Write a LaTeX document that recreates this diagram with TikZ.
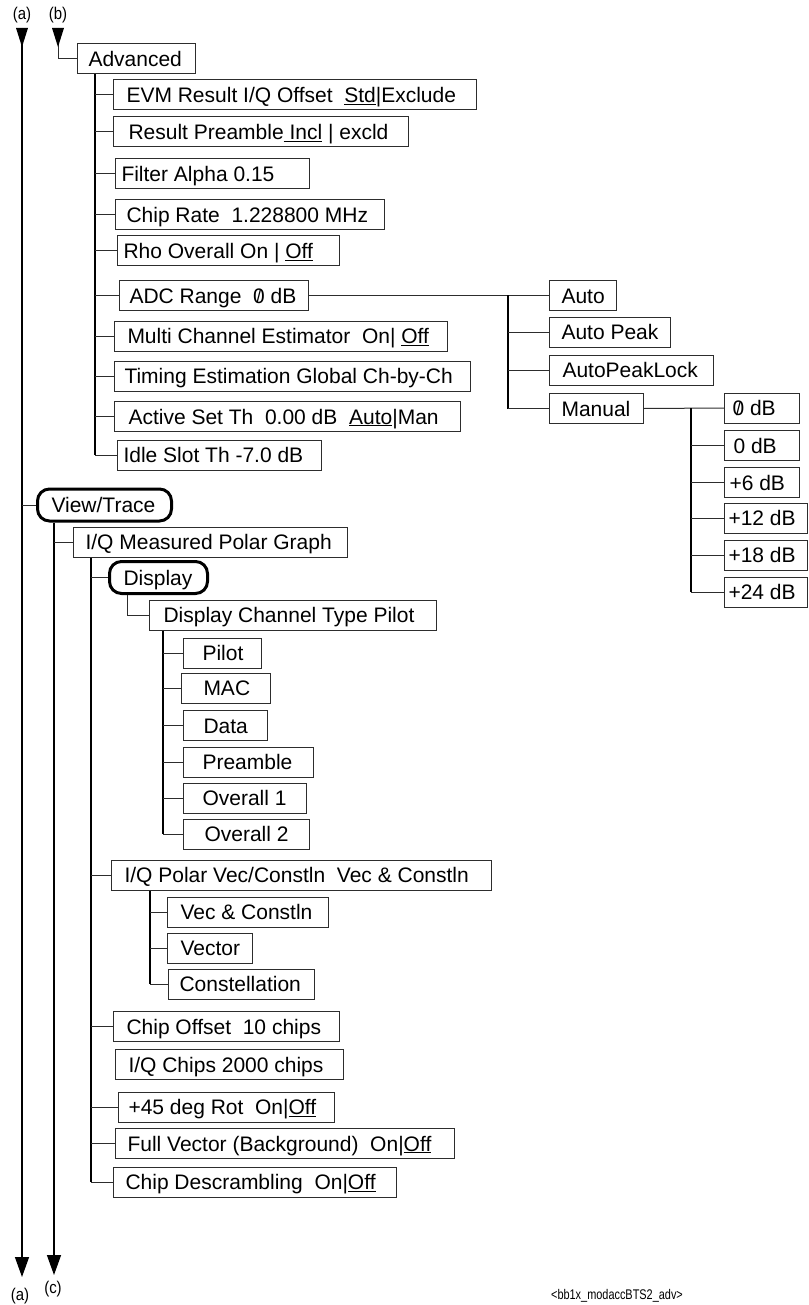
\documentclass[tikz,border=0pt]{standalone}
\usepackage{fontspec}
\usepackage{graphicx}
\setmainfont{Liberation Sans}
\usetikzlibrary{arrows.meta}
\definecolor{lc}{RGB}{45,45,45}
\newcommand\slz{{\ooalign{0\cr\hidewidth\raisebox{0.5pt}{\scalebox{0.8}[0.85]{/}}\hidewidth\cr}}}
\tikzset{
  bx/.style={draw=lc, line width=1pt, inner sep=0pt, anchor=west,
    minimum height=30pt, text height=19pt, text depth=4pt,
    font=\fontsize{21}{25}\selectfont},
  rbx/.style={draw=black, line width=3pt, rounded corners=12pt, inner sep=0pt, anchor=west,
    minimum height=32pt, text height=19pt, text depth=4pt,
    font=\fontsize{21}{25}\selectfont},
  br/.style={draw=lc, line width=1pt},
  trunk/.style={draw=black, line width=2pt},
  mid/.style={draw=black, line width=1.4pt},
  lbl/.style={inner sep=0pt, font=\fontsize{17}{20}\selectfont},
  tip/.style={-{Triangle[length=20pt,width=14pt]}}
}
\newcommand\bx[6]{\node[bx] (#1) at (#2,#3) {\makebox[#4pt][l]{\hspace*{#5pt}#6}};}
\newcommand\rbx[6]{\node[rbx] (#1) at (#2,#3) {\makebox[#4pt][l]{\hspace*{#5pt}#6}};}
\begin{document}
\begin{tikzpicture}[x=1pt,y=-1pt]
\useasboundingbox (0,0) rectangle (808,1305);
% labels
\node[lbl] (la) at (22,15) {\scalebox{0.88}[1]{(a)}};
\node[lbl] (lb) at (58,15) {\scalebox{0.88}[1]{(b)}};
\node[lbl] (la2) at (20,1296) {\scalebox{0.88}[1]{(a)}};
\node[lbl] (lc) at (53,1289) {\scalebox{0.88}[1]{(c)}};
\node[inner sep=0pt, font=\fontsize{14}{16}\selectfont] (cap) at (617,1296) {\scalebox{0.78}[1]{<bb1x\_modaccBTS2\_adv>}};
% Advanced subtree
\bx{adv}{77}{59}{118}{11}{Advanced}
\bx{evm}{113}{95}{363}{13}{EVM Result I/Q Offset\ \ \underline{Std}|Exclude}
\bx{rpre}{113}{132}{295}{15}{Result Preamble\underline{\ Incl} | excld}
\bx{filt}{115}{174}{194}{6}{Filter Alpha 0.15}
\bx{crate}{115}{215}{269}{11}{Chip Rate\ \ 1.228800 MHz}
\bx{rho}{117}{251}{222}{6}{Rho Overall On | \underline{Off}}
\bx{adc}{119}{295.5}{189}{10}{ADC Range\ \ \slz{} dB}
\bx{mce}{114}{336}{333}{13}{Multi Channel Estimator\ \ On| \underline{Off}}
\bx{tim}{114}{376}{356}{10}{Timing Estimation Global Ch-by-Ch}
\bx{ast}{114}{416.5}{346}{14}{Active Set Th\ \ 0.00 dB\ \ \underline{Auto}|Man}
\bx{idle}{117}{455}{204}{6}{Idle Slot Th -7.0 dB}
% ADC range subtree
\bx{auto}{549}{295.5}{67}{12}{Auto}
\bx{apk}{549}{332}{121}{12}{Auto Peak}
\bx{apl}{549}{370}{164}{13}{AutoPeakLock}
\bx{man}{549}{408.5}{94}{12}{Manual}
\bx{d0}{724}{408}{75}{8}{\slz{} dB}
\bx{d1}{724}{445.5}{75}{9}{0 dB}
\bx{d2}{724}{482.5}{75}{5}{+6 dB}
\bx{d3}{724}{518}{83}{4}{+12 dB}
\bx{d4}{724}{555}{83}{4}{+18 dB}
\bx{d5}{724}{592}{83}{4}{+24 dB}
% View/Trace subtree
\rbx{vt}{36}{505}{134}{14}{View/Trace}
\bx{iqm}{73}{542}{274}{12}{I/Q Measured Polar Graph}
\rbx{disp}{108}{577.5}{98}{14}{Display}
\bx{dct}{149}{615}{287}{14}{Display Channel Type Pilot}
\bx{pil}{183}{653}{78}{19}{Pilot}
\bx{mac}{181}{688}{89}{22}{MAC}
\bx{dat}{183}{725.5}{84}{20}{Data}
\bx{pre}{183}{762}{130}{19}{Preamble}
\bx{ov1}{183}{798}{123}{19}{Overall 1}
\bx{ov2}{183}{834}{126}{21}{Overall 2}
\bx{iqp}{111}{875}{380}{13}{I/Q Polar Vec/Constln\ \ Vec \& Constln}
\bx{vc}{167}{912}{161}{13}{Vec \& Constln}
\bx{vec}{167}{948}{85}{13}{Vector}
\bx{con}{168}{984}{146}{11}{Constellation}
\bx{cof}{113}{1026.5}{226}{13}{Chip Offset\ \ 10 chips}
\bx{iqc}{115}{1064.5}{228}{13}{I/Q Chips 2000 chips}
\bx{rot}{118}{1107}{216}{10}{+45 deg Rot\ \ On|\underline{Off}}
\bx{fv}{115}{1143.5}{339}{12}{Full Vector (Background)\ \ On|\underline{Off}}
\bx{cds}{113}{1182}{283}{12}{Chip Descrambling\ \ On|\underline{Off}}
% (a) line
\coordinate (aTop) at (22,28);
\coordinate (aBot) at (22,1277);
\draw[mid, tip] (aTop) -- (aBot);
\fill (16,28) -- (28,28) -- (22,47) -- cycle;
\draw[br] (aTop |- vt.west) -- (vt.west);
% (b) line
\coordinate (bTop) at (58,28);
\draw[br] (bTop) |- (adv.west);
\fill (52,28) -- (64,28) -- (58,47) -- cycle;
% (c) line
\coordinate (cBot) at (54,1275);
\draw[mid, tip] (vt.south -| cBot) -- (cBot);
\draw[br] (cBot |- iqm.west) -- (iqm.west);
% Advanced trunk
\coordinate (tA) at ([xshift=18pt]adv.south west);
\draw[trunk] (tA) -- (tA |- idle.west);
\foreach \n in {evm,rpre,filt,crate,rho,adc,mce,tim,ast,idle}
  \draw[br] (tA |- \n.west) -- (\n.west);
% ADC trunk
\draw[br] (adc.east) -- (auto.west);
\coordinate (tB) at (508,0);
\draw[mid] (tB |- auto.west) -- (tB |- man.west);
\foreach \n in {apk,apl,man}
  \draw[br] (tB |- \n.west) -- (\n.west);
% Manual trunk
\draw[br] (man.east) -- (d0.west);
\coordinate (tC) at (691,0);
\draw[trunk] (tC |- d0.west) -- (tC |- d5.west);
\foreach \n in {d1,d2,d3,d4,d5}
  \draw[br] (tC |- \n.west) -- (\n.west);
% I/Q Measured trunk
\coordinate (tD) at ([xshift=18pt]iqm.south west);
\draw[trunk] (tD) -- (tD |- cds.west);
\foreach \n in {disp,iqp,cof,rot,fv,cds}
  \draw[br] (tD |- \n.west) -- (\n.west);
% Display -> channel type
\coordinate (tE) at ([xshift=19pt]disp.south west);
\draw[br] (tE) |- (dct.west);
% Channel type trunk
\coordinate (tF) at ([xshift=14pt]dct.south west);
\draw[mid] (tF) -- (tF |- ov2.west);
\foreach \n in {pil,mac,dat,pre,ov1,ov2}
  \draw[br] (tF |- \n.west) -- (\n.west);
% Polar trunk
\coordinate (tG) at ([xshift=39pt]iqp.south west);
\draw[mid] (tG) -- (tG |- con.west);
\foreach \n in {vc,vec,con}
  \draw[br] (tG |- \n.west) -- (\n.west);
\end{tikzpicture}
\end{document}
